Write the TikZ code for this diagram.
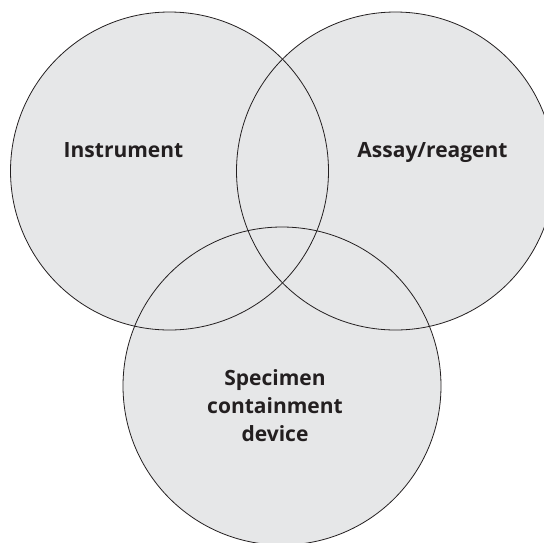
\documentclass[tikz,border=0pt]{standalone}
\usepackage{fontspec}
\setmainfont{Open Sans}
\definecolor{vennfill}{HTML}{E6E7E8}
\definecolor{vennline}{HTML}{231F20}
\tikzset{
  venn/.style={circle, minimum size=318pt, inner sep=0pt, fill=vennfill},
  vennedge/.style={circle, minimum size=318pt, inner sep=0pt, draw=vennline, line width=0.8pt},
  lbl/.style={font=\fontsize{21}{28}\selectfont\bfseries, text=vennline, inner sep=0pt, anchor=base}
}
\begin{document}
\begin{tikzpicture}[x=1pt,y=-1pt]
\clip (0,0) rectangle (544,542);
\useasboundingbox (0,0) rectangle (544,542);
\node[venn] (f1) at (169.5,171) {};
\node[venn] (f2) at (395.5,171) {};
\node[venn] (f3) at (282,386) {};
\node[vennedge] (c1) at (169.5,171) {};
\node[vennedge] (c2) at (395.5,171) {};
\node[vennedge] (c3) at (282,386) {};
\node[lbl] (t1) at (123.5,157.3) {Instrument};
\node[lbl] (t2) at (432.5,157.3) {Assay/reagent};
\node[lbl] (t3a) at (275,385.7) {Specimen};
\node[lbl] (t3b) at (275,413.5) {containment};
\node[lbl] (t3c) at (275,441.3) {device};
\end{tikzpicture}
\end{document}
